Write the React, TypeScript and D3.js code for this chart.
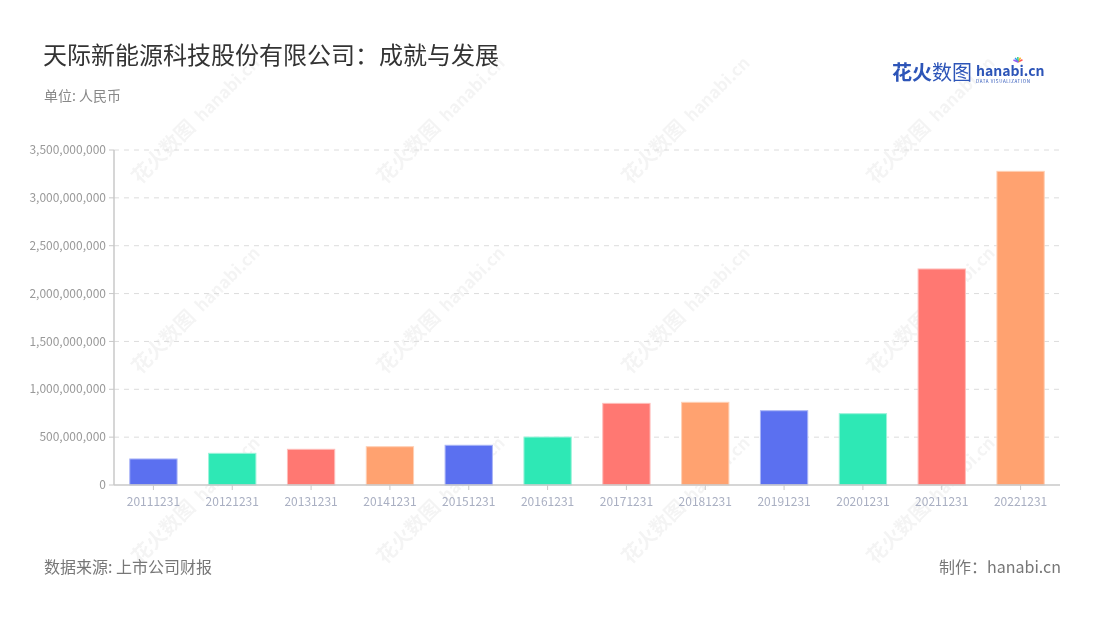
import React from "react";
import * as d3 from "d3";

const categories = ["20111231","20121231","20131231","20141231","20151231","20161231","20171231","20181231","20191231","20201231","20211231","20221231"];
const values = [272e6, 331e6, 373e6, 400e6, 415e6, 501e6, 853e6, 864e6, 776e6, 745e6, 2257e6, 3277e6];
const yTicks = [0, 5e8, 1e9, 1.5e9, 2e9, 2.5e9, 3e9, 3.5e9];
const palette = ["#5b70f0", "#2ee8b5", "#ff7872", "#ffa270"];
const strokes = ["#aab5f7", "#9cf3da", "#ffbdba", "#ffd0b5"];

const W = 1100, H = 620;
const left = 114, right = 1060, top = 150, bottom = 485;

export default function App() {
  const x = d3.scaleBand<string>().domain(categories).range([left, right]).paddingInner(0.4).paddingOuter(0.2);
  const y = d3.scaleLinear().domain([0, 3.5e9]).range([bottom, top]);
  const fmt = d3.format(",");
  const font = "'Noto Sans CJK SC', 'Noto Sans', sans-serif";
  const wmX = [140, 385, 630, 875];
  const wmY = [150, 340, 530];
  return (
    <svg width={W} height={H} style={{ position: "absolute", left: 0, top: 0, background: "#fff" }} fontFamily={font}>
      <rect width={W} height={H} fill="#fff" />
      {/* watermarks */}
      <g opacity={0.045} fill="#000">
        {wmX.map((wx) => wmY.map((wy) => (
          <g key={wx + "-" + wy} transform={`translate(${wx},${wy + 35}) rotate(-45)`}>
            <text fontSize={20} fontWeight={700} x={0} y={0}>花火数图</text>
            <text fontSize={17} fontWeight={700} x={88} y={0}>hanabi.cn</text>
          </g>
        )))}
      </g>
      <text x={43} y={64} fontSize={24} fill="#333">天际新能源科技股份有限公司：成就与发展</text>
      <text x={44} y={101} fontSize={14} fill="#888">单位: 人民币</text>
      {/* logo */}
      <text x={892} y={80} fontSize={20} fontWeight={700} fill="#2d55b8">花火</text>
      <text x={932} y={80} fontSize={20} fill="#2d55b8">数图</text>
      <text x={976} y={76} fontSize={14} fontWeight={700} fill="#2d55b8">hanabi.cn</text>
      <text x={976} y={83} fontSize={4.5} fill="#2d55b8" letterSpacing={0.6}>DATA VISUALIZATION</text>
      <g transform="translate(1018,62)">
        {["#ff5a5a", "#ffb020", "#3ccf7a", "#2d9bf0", "#9b59f0"].map((c, i) => (
          <line key={c} x1={0} y1={0} x2={Math.cos(-Math.PI * (0.15 + i * 0.18)) * 5} y2={Math.sin(-Math.PI * (0.15 + i * 0.18)) * 5} stroke={c} strokeWidth={1.5} />
        ))}
      </g>
      {/* grid */}
      {yTicks.map((t) => (
        <g key={t}>
          {t > 0 && <line x1={left} x2={right} y1={y(t)} y2={y(t)} stroke="#dcdcdc" strokeDasharray="5,5" />}
          <line x1={left - 5} x2={left} y1={y(t)} y2={y(t)} stroke="#c8c8c8" />
          <text x={left - 8} y={y(t)} dy="0.35em" textAnchor="end" fontSize={12} fill="#999">{fmt(t)}</text>
        </g>
      ))}
      {/* bars */}
      {categories.map((c, i) => (
        <rect key={c} x={x(c)} y={y(values[i])} width={x.bandwidth()} height={bottom - y(values[i])}
          fill={palette[i % 4]} stroke={strokes[i % 4]} strokeWidth={1} />
      ))}
      {/* axes */}
      <line x1={left} x2={left} y1={top} y2={bottom} stroke="#c8c8c8" strokeWidth={1.5} />
      <line x1={left} x2={right} y1={bottom} y2={bottom} stroke="#c8c8c8" strokeWidth={1.5} />
      {categories.map((c) => {
        const cx = (x(c) as number) + x.bandwidth() / 2;
        return (
          <g key={c}>
            <line x1={cx} x2={cx} y1={bottom} y2={bottom + 5} stroke="#c8c8c8" />
            <text x={cx} y={506} textAnchor="middle" fontSize={12} fill="#a9afc2">{c}</text>
          </g>
        );
      })}
      <text x={44} y={573} fontSize={16} fill="#777">数据来源: 上市公司财报</text>
      <text x={1061} y={573} fontSize={16} fill="#777" textAnchor="end">制作：hanabi.cn</text>
    </svg>
  );
}
